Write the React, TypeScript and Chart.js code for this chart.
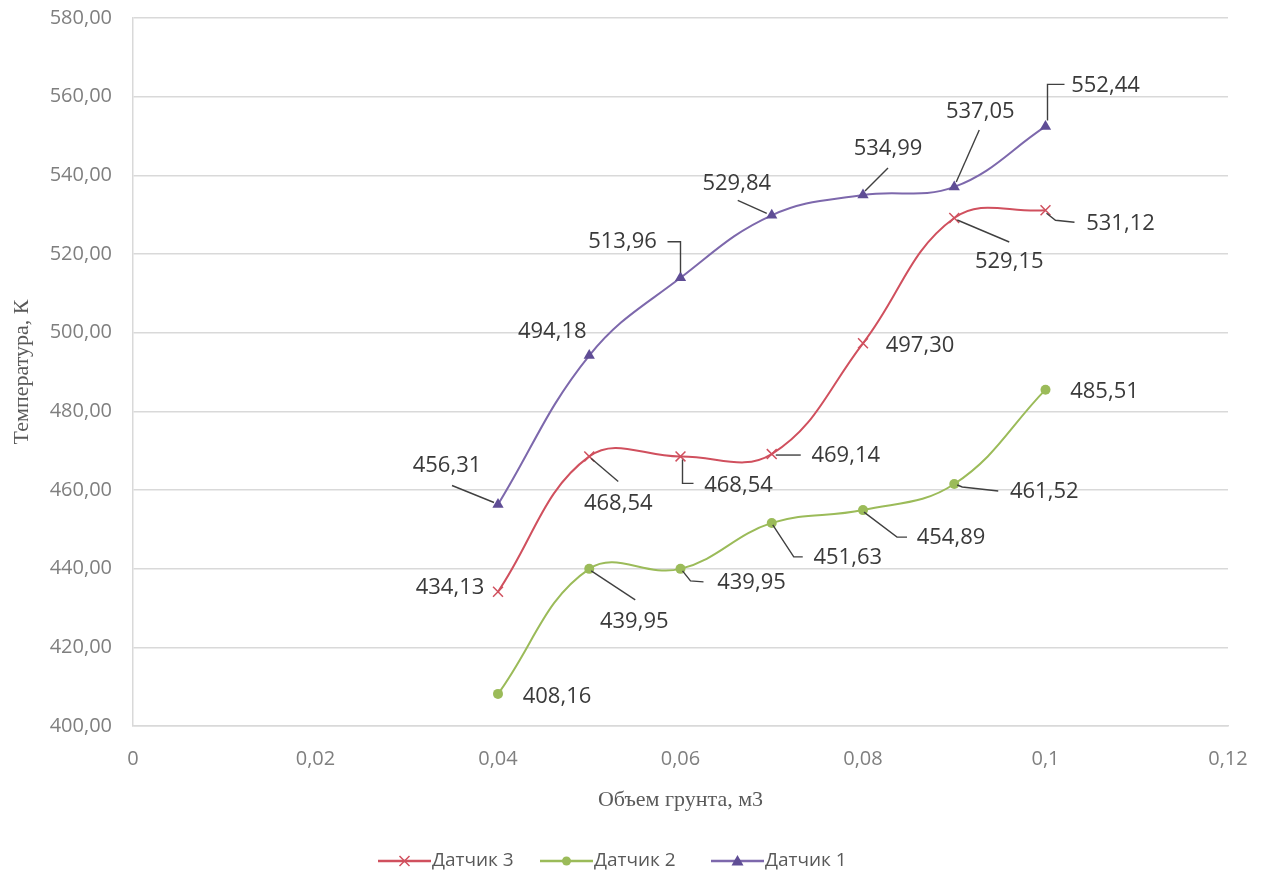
import React, { useEffect, useRef } from "react";
import { Chart, registerables } from "chart.js";

Chart.register(...registerables);

// Объем грунта, м3
const volumes = [0.04, 0.05, 0.06, 0.07, 0.08, 0.09, 0.1];

// Температура, К
const sensor3 = [434.13, 468.54, 468.54, 469.14, 497.3, 529.15, 531.12];
const sensor2 = [408.16, 439.95, 439.95, 451.63, 454.89, 461.52, 485.51];
const sensor1 = [456.31, 494.18, 513.96, 529.84, 534.99, 537.05, 552.44];

const seriesNames = ["Датчик 3", "Датчик 2", "Датчик 1"];

const xTickValues = [0, 0.02, 0.04, 0.06, 0.08, 0.1, 0.12];

// Data-label placement, relative to each point in pixels:
// [dx, dy] of the label centre, and an optional leader polyline.
type Placement = { d: [number, number]; leader?: [number, number][] };

const sensor3Labels: Placement[] = [
  { d: [-48, -4] },
  { d: [29, 47], leader: [[2, 2], [29, 25]] },
  { d: [58, 29], leader: [[2, 3], [2, 27], [13, 27]] },
  { d: [74, 2], leader: [[4, 1], [29, 1]] },
  { d: [57, 2] },
  { d: [55, 44], leader: [[3, 2], [55, 24]] },
  { d: [75, 13], leader: [[1, 3], [10, 10], [29, 12]] },
];

const sensor2Labels: Placement[] = [
  { d: [59, 3] },
  { d: [45, 53], leader: [[2, 2], [46, 31]] },
  { d: [71, 14], leader: [[2, 2], [10, 12], [23, 13]] },
  { d: [76, 35], leader: [[1, 2], [22, 34], [31, 34]] },
  { d: [88, 28], leader: [[1, 2], [34, 27], [44, 27]] },
  { d: [90, 8], leader: [[3, 1], [8, 3], [44, 7]] },
  { d: [59, 2] },
];

const sensor1Labels: Placement[] = [
  { d: [-51, -39], leader: [[-4, -2], [-46, -19]] },
  { d: [-37, -24] },
  { d: [-58, -36], leader: [[-13, -36], [0, -36], [0, -5]] },
  { d: [-35, -32], leader: [[-34, -15], [-5, -2]] },
  { d: [25, -46], leader: [[25, -27], [2, -4]] },
  { d: [26, -75], leader: [[25, -57], [2, -5]] },
  { d: [60, -41], leader: [[19, -42], [2, -42], [2, -6]] },
];

const RED = "#D0505E";
const GREEN = "#9BBB59";
const PURPLE_LINE = "#7D68AC";
const PURPLE_MARK = "#5F4D95";

const fmtComma = (v: number, digits: number) =>
  v.toFixed(digits).replace(".", ",");

const labelSets = [sensor3Labels, sensor2Labels, sensor1Labels];

// Draws the value labels with their leader lines, and the legend strip.
const annotatePlugin = {
  id: "annotate",
  afterDatasetsDraw(chart: any) {
    const { ctx } = chart;
    ctx.save();
    chart.data.datasets.forEach((ds: any, i: number) => {
      const meta = chart.getDatasetMeta(i);
      const placements = labelSets[i];
      meta.data.forEach((pt: any, j: number) => {
        const p = placements[j];
        const x = pt.x;
        const y = pt.y;
        if (p.leader) {
          ctx.beginPath();
          ctx.strokeStyle = "#404040";
          ctx.lineWidth = 1.4;
          p.leader.forEach(([lx, ly], k) => {
            if (k === 0) ctx.moveTo(x + lx, y + ly);
            else ctx.lineTo(x + lx, y + ly);
          });
          ctx.stroke();
        }
        ctx.fillStyle = "#3A3A3A";
        ctx.font = "22px 'Open Sans'";
        ctx.textAlign = "center";
        ctx.textBaseline = "middle";
        ctx.fillText(fmtComma(ds.data[j].y, 2), x + p.d[0], y + p.d[1]);
      });
    });
    ctx.restore();
  },
  afterDraw(chart: any) {
    const { ctx } = chart;
    const cy = 861;
    const items = [
      { x0: 378, name: seriesNames[0], color: RED, mark: "cross" },
      { x0: 540, name: seriesNames[1], color: GREEN, mark: "circle" },
      { x0: 711, name: seriesNames[2], color: PURPLE_LINE, mark: "triangle" },
    ];
    ctx.save();
    items.forEach((it) => {
      const x1 = it.x0 + 53;
      const mx = (it.x0 + x1) / 2;
      ctx.strokeStyle = it.color;
      ctx.lineWidth = 2.5;
      ctx.beginPath();
      ctx.moveTo(it.x0, cy);
      ctx.lineTo(x1, cy);
      ctx.stroke();
      if (it.mark === "cross") {
        ctx.lineWidth = 1.5;
        ctx.beginPath();
        ctx.moveTo(mx - 5, cy - 5);
        ctx.lineTo(mx + 5, cy + 5);
        ctx.moveTo(mx + 5, cy - 5);
        ctx.lineTo(mx - 5, cy + 5);
        ctx.stroke();
      } else if (it.mark === "circle") {
        ctx.fillStyle = GREEN;
        ctx.beginPath();
        ctx.arc(mx, cy, 4.5, 0, Math.PI * 2);
        ctx.fill();
      } else {
        ctx.fillStyle = PURPLE_MARK;
        ctx.beginPath();
        ctx.moveTo(mx, cy - 6);
        ctx.lineTo(mx + 6, cy + 4.5);
        ctx.lineTo(mx - 6, cy + 4.5);
        ctx.closePath();
        ctx.fill();
      }
      ctx.fillStyle = "#595959";
      ctx.font = "19px 'Open Sans'";
      ctx.textAlign = "left";
      ctx.textBaseline = "middle";
      ctx.fillText(it.name, x1 + 1, cy);
    });
    ctx.restore();
  },
};

const toPoints = (ys: number[]) => volumes.map((x, i) => ({ x, y: ys[i] }));

export default function App() {
  const canvasRef = useRef<HTMLCanvasElement>(null);

  useEffect(() => {
    if (!canvasRef.current) return;
    const chart = new Chart(canvasRef.current, {
      type: "scatter",
      data: {
        datasets: [
          {
            label: seriesNames[0],
            data: toPoints(sensor3),
            showLine: true,
            borderColor: RED,
            borderWidth: 2,
            tension: 0.4,
            pointStyle: "crossRot",
            pointRadius: 7,
            pointBorderWidth: 1.5,
            pointBorderColor: RED,
            pointBackgroundColor: RED,
          },
          {
            label: seriesNames[1],
            data: toPoints(sensor2),
            showLine: true,
            borderColor: GREEN,
            borderWidth: 2,
            tension: 0.4,
            pointStyle: "circle",
            pointRadius: 5,
            pointBorderWidth: 0,
            pointBackgroundColor: GREEN,
            pointBorderColor: GREEN,
          },
          {
            label: seriesNames[2],
            data: toPoints(sensor1),
            showLine: true,
            borderColor: PURPLE_LINE,
            borderWidth: 2,
            tension: 0.4,
            pointStyle: "triangle",
            pointRadius: 6.5,
            pointBorderWidth: 0,
            pointBackgroundColor: PURPLE_MARK,
            pointBorderColor: PURPLE_MARK,
          },
        ],
      },
      options: {
        responsive: false,
        animation: false,
        layout: { padding: { left: 0, right: 34, top: 18, bottom: 45 } },
        plugins: {
          legend: { display: false },
          tooltip: { enabled: false },
        },
        scales: {
          x: {
            type: "linear",
            min: 0,
            max: 0.12,
            afterBuildTicks: (scale: any) => {
              scale.ticks = xTickValues.map((v) => ({ value: v }));
            },
            afterFit: (scale: any) => {
              scale.height = 110;
              scale.paddingLeft = 0;
              scale.paddingRight = 0;
            },
            grid: {
              display: true,
              drawOnChartArea: false,
              drawTicks: false,
              color: "#D9D9D9",
            },
            border: { display: true, color: "#D9D9D9", width: 1.5 },
            ticks: {
              padding: 21,
              color: "#7F7F7F",
              font: { family: "'Open Sans'", size: 20 },
              callback: (v: any) => String(parseFloat(Number(v).toFixed(2))).replace(".", ","),
              maxRotation: 0,
            },
            title: {
              display: true,
              text: "Объем грунта, м3",
              color: "#595959",
              font: { family: "'Liberation Serif'", size: 22 },
              padding: { top: 0, bottom: 23 },
            },
          },
          y: {
            type: "linear",
            min: 400,
            max: 580,
            ticks: {
              stepSize: 20,
              padding: 21,
              color: "#7F7F7F",
              font: { family: "'Open Sans'", size: 20 },
              callback: (v: any) => fmtComma(Number(v), 2),
            },
            afterFit: (scale: any) => {
              scale.width = 133;
              scale.paddingTop = 0;
              scale.paddingBottom = 0;
            },
            grid: { color: "#D9D9D9", lineWidth: 1.5, drawTicks: false },
            border: { display: true, color: "#D9D9D9", width: 1.5 },
            title: {
              display: true,
              text: "Температура, К",
              color: "#595959",
              font: { family: "'Liberation Serif'", size: 22 },
              padding: { top: 9, bottom: 0 },
            },
          },
        },
      },
      plugins: [annotatePlugin],
    } as any);
    return () => chart.destroy();
  }, []);

  return (
    <div
      style={{
        position: "absolute",
        left: 0,
        top: 0,
        width: 1262,
        height: 881,
        background: "#ffffff",
      }}
    >
      <canvas ref={canvasRef} width={1262} height={881} />
    </div>
  );
}
